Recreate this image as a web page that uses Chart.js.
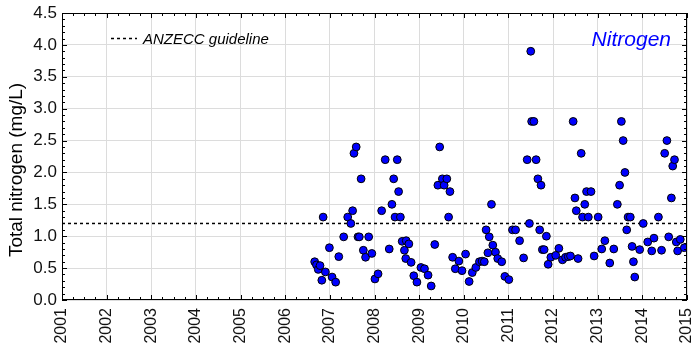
<!DOCTYPE html>
<html lang="en">
<head>
<meta charset="utf-8">
<title>Total nitrogen</title>
<script src="https://cdn.jsdelivr.net/npm/chart.js@4.4.1/dist/chart.umd.min.js"></script>
<style>
  html, body { margin: 0; padding: 0; background: #fff; }
  #chart { display: block; }
</style>
</head>
<body>
<canvas id="chart" width="692" height="347"></canvas>
<script>
// sample dates (decimal year) and total nitrogen (mg/L)
const sampleYear = [
  2006.66, 2006.70, 2006.74, 2006.78, 2006.82, 2006.85, 2006.90, 2006.99, 2007.05, 2007.13,
  2007.20, 2007.31, 2007.40, 2007.47, 2007.51, 2007.54, 2007.59, 2007.63, 2007.66, 2007.70,
  2007.75, 2007.80, 2007.87, 2007.94, 2008.01, 2008.08, 2008.16, 2008.24, 2008.33, 2008.39,
  2008.43, 2008.46, 2008.51, 2008.54, 2008.58, 2008.62, 2008.67, 2008.71, 2008.77, 2008.70,
  2008.82, 2008.88, 2008.95, 2009.04, 2009.12, 2009.20, 2009.27, 2009.35, 2009.42, 2009.46,
  2009.52, 2009.56, 2009.62, 2009.66, 2009.69, 2009.75, 2009.81, 2009.89, 2009.96, 2010.04,
  2010.12, 2010.19, 2010.27, 2010.35, 2010.41, 2010.46, 2010.50, 2010.57, 2010.54, 2010.62,
  2010.65, 2010.71, 2010.76, 2010.85, 2010.92, 2011.01, 2011.09, 2011.16, 2011.25, 2011.34,
  2011.42, 2011.47, 2011.50, 2011.52, 2011.57, 2011.62, 2011.66, 2011.73, 2011.70, 2011.76,
  2011.80, 2011.85, 2011.89, 2011.95, 2012.06, 2012.13, 2012.21, 2012.28, 2012.34, 2012.39,
  2012.45, 2012.49, 2012.52, 2012.56, 2012.63, 2012.66, 2012.71, 2012.75, 2012.79, 2012.85,
  2012.92, 2013.01, 2013.09, 2013.16, 2013.27, 2013.36, 2013.44, 2013.49, 2013.53, 2013.57,
  2013.61, 2013.65, 2013.68, 2013.73, 2013.77, 2013.80, 2013.83, 2013.94, 2014.02, 2014.12,
  2014.21, 2014.26, 2014.36, 2014.43, 2014.50, 2014.55, 2014.59, 2014.65, 2014.68, 2014.72,
  2014.76, 2014.79, 2014.85, 2014.94
];
const totalN = [
  0.60, 0.55, 0.48, 0.54, 0.31, 1.30, 0.44, 0.82, 0.36, 0.28,
  0.68, 0.99, 1.30, 1.20, 1.40, 2.30, 2.40, 0.99, 0.99, 1.90,
  0.78, 0.67, 0.99, 0.73, 0.33, 0.41, 1.40, 2.20, 0.80, 1.50,
  1.90, 1.30, 2.20, 1.70, 1.30, 0.92, 0.78, 0.93, 0.88, 0.65,
  0.59, 0.38, 0.28, 0.51, 0.49, 0.39, 0.22, 0.87, 1.80, 2.40,
  1.90, 1.80, 1.90, 1.30, 1.70, 0.67, 0.49, 0.61, 0.46, 0.72,
  0.29, 0.43, 0.51, 0.60, 0.61, 0.60, 1.10, 0.99, 0.74, 1.50,
  0.86, 0.75, 0.65, 0.60, 0.37, 0.32, 1.10, 1.10, 0.93, 0.66,
  2.20, 1.20, 3.90, 2.80, 2.80, 2.20, 1.90, 1.80, 1.10, 0.79,
  0.79, 1.00, 0.56, 0.67, 0.70, 0.81, 0.63, 0.67, 0.68, 0.69,
  2.80, 1.60, 1.40, 0.65, 2.30, 1.30, 1.50, 1.70, 1.30, 1.70,
  0.69, 1.30, 0.80, 0.93, 0.58, 0.80, 1.50, 1.80, 2.80, 2.50,
  2.00, 1.10, 1.30, 1.30, 0.84, 0.60, 0.36, 0.79, 1.20, 0.91,
  0.77, 0.97, 1.30, 0.78, 2.30, 2.50, 0.99, 1.60, 2.10, 2.20,
  0.91, 0.77, 0.95, 0.82
];
// ANZECC guideline trigger value
const guideYear = [2001, 2015];
const guideValue = [1.2, 1.2];
const yearTicks = [2001, 2015];
const nTicks = [0, 4.5];

const FONT = '"Liberation Sans", Arial, sans-serif';

// inward ticks, frame, legend, panel title, axis title
const decorations = {
  id: 'decorations',
  afterDraw(chart) {
    const { ctx, chartArea: a, scales: { x, y } } = chart;
    ctx.save();
    ctx.strokeStyle = '#000';
    ctx.lineWidth = 1;
    ctx.strokeRect(a.left + 0.5, a.top + 0.5, a.right - a.left - 1, a.bottom - a.top - 1);

    ctx.beginPath();
    for (let i = 0; i <= (yearTicks[1] - yearTicks[0]) * 4; i++) {
      const px = Math.round(x.getPixelForValue(yearTicks[0] + i / 4)) + 0.5;
      const len = i % 4 === 0 ? 5 : 3;
      ctx.moveTo(px, a.bottom); ctx.lineTo(px, a.bottom - len);
      ctx.moveTo(px, a.top); ctx.lineTo(px, a.top + len);
    }
    for (let i = 0; i <= nTicks[1] * 10; i++) {
      const py = Math.round(y.getPixelForValue(i / 10)) + 0.5;
      const len = i % 5 === 0 ? 5 : 3;
      ctx.moveTo(a.left, py); ctx.lineTo(a.left + len, py);
      ctx.moveTo(a.right, py); ctx.lineTo(a.right - len, py);
    }
    ctx.stroke();

    // legend
    ctx.setLineDash([3, 3]);
    ctx.lineWidth = 1.5;
    ctx.beginPath();
    ctx.moveTo(111, 38.5); ctx.lineTo(137, 38.5);
    ctx.stroke();
    ctx.setLineDash([]);
    ctx.fillStyle = '#000';
    ctx.font = 'italic 15px ' + FONT;
    ctx.textAlign = 'left';
    ctx.textBaseline = 'alphabetic';
    ctx.fillText('ANZECC guideline', 143, 44);

    // panel title
    ctx.fillStyle = '#0000ff';
    ctx.font = 'italic 21px ' + FONT;
    ctx.textAlign = 'right';
    ctx.fillText('Nitrogen', 671, 46);

    // y axis title
    ctx.fillStyle = '#000';
    ctx.font = '19px ' + FONT;
    ctx.translate(17, 170);
    ctx.rotate(-Math.PI / 2);
    ctx.textAlign = 'center';
    ctx.textBaseline = 'middle';
    ctx.fillText('Total nitrogen (mg/L)', 0, 0);
    ctx.restore();
  }
};

new Chart(document.getElementById('chart'), {
  type: 'scatter',
  data: {
    datasets: [
      {
        label: 'Total nitrogen',
        data: sampleYear.map((yr, i) => ({ x: yr, y: totalN[i] })),
        backgroundColor: '#0000ff',
        borderColor: '#000',
        borderWidth: 1,
        pointRadius: 3.9,
        order: 1
      },
      {
        type: 'line',
        label: 'ANZECC guideline',
        data: guideYear.map((yr, i) => ({ x: yr, y: guideValue[i] })),
        borderColor: '#000',
        borderWidth: 1.5,
        borderDash: [3, 3],
        pointRadius: 0,
        fill: false,
        order: 2
      }
    ]
  },
  options: {
    responsive: false,
    animation: false,
    layout: { padding: { top: 13, right: 4, left: 0, bottom: 0 } },
    plugins: { legend: { display: false }, tooltip: { enabled: false } },
    scales: {
      x: {
        type: 'linear',
        min: yearTicks[0],
        max: yearTicks[1],
        border: { display: false },
        grid: { color: '#dcdcdc', drawTicks: false },
        ticks: {
          stepSize: 1,
          minRotation: 90,
          maxRotation: 90,
          padding: 8,
          color: '#111',
          font: { family: FONT, size: 16 },
          callback: v => String(v)
        },
        afterFit(s) { s.height = 47; s.paddingLeft = 0; s.paddingRight = 0; }
      },
      y: {
        min: nTicks[0],
        max: nTicks[1],
        border: { display: false },
        grid: { color: '#dcdcdc', drawTicks: false },
        ticks: {
          stepSize: 0.5,
          padding: 5,
          color: '#111',
          font: { family: FONT, size: 17 },
          callback: v => v.toFixed(1)
        },
        afterFit(s) { s.width = 62; s.paddingTop = 0; s.paddingBottom = 0; }
      }
    }
  },
  plugins: [decorations]
});
</script>
</body>
</html>
